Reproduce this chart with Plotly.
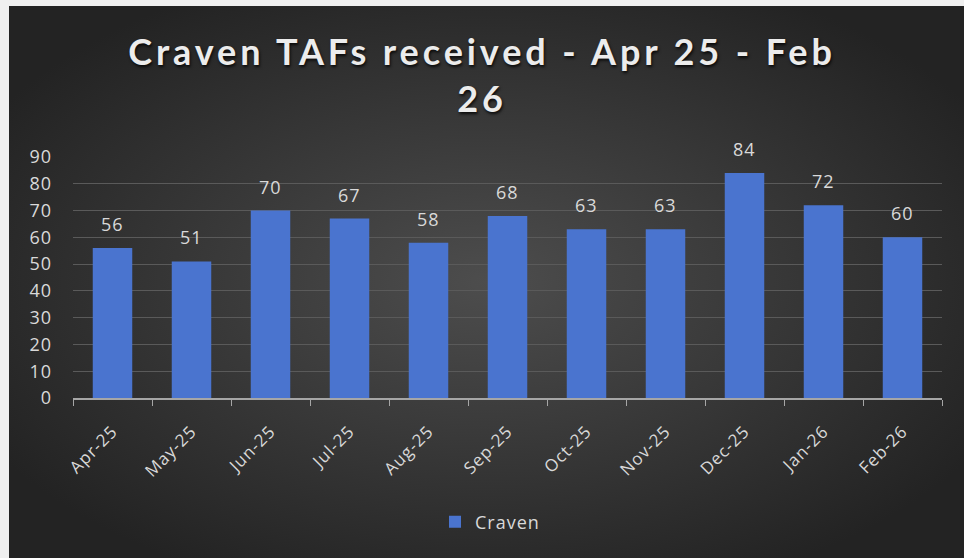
import base64
import plotly.graph_objects as go

months = ["Apr-25", "May-25", "Jun-25", "Jul-25", "Aug-25", "Sep-25",
          "Oct-25", "Nov-25", "Dec-25", "Jan-26", "Feb-26"]
craven = [56, 51, 70, 67, 58, 68, 63, 63, 84, 72, 60]
y_ticks = [0, 10, 20, 30, 40, 50, 60, 70, 80, 90]
title_text = "Craven TAFs received - Apr 25 - Feb<br>26"
series_name = "Craven"

W, H = 964, 558
ML, MR, MT, MB = 73, 22, 157, 160
PW, PH = W - ML - MR, H - MT - MB

svg = f'''<svg xmlns="http://www.w3.org/2000/svg" width="{W}" height="{H}" viewBox="0 0 {W} {H}" preserveAspectRatio="none">
<defs><radialGradient id="g" cx="50%" cy="50%" r="60%">
<stop offset="0%" stop-color="#4d4d4d"/><stop offset="100%" stop-color="#232323"/>
</radialGradient></defs><rect width="{W}" height="{H}" fill="url(#g)"/></svg>'''
bg_src = "data:image/svg+xml;base64," + base64.b64encode(svg.encode()).decode()


def px_x(p):
    return (p - ML) / PW


def px_y(p):
    return (H - MB - p) / PH


fig = go.Figure()
fig.add_trace(go.Bar(
    x=months, y=craven, name=series_name,
    marker=dict(color="#4a74cf", line=dict(width=0)),
    hoverinfo="x+y",
))

for m, v in zip(months, craven):
    fig.add_annotation(x=m, y=v, text=str(v), showarrow=False, yshift=24,
                       yanchor="middle",
                       font=dict(family="Open Sans", size=18, color="#d9d9d9"))

fig.update_layout(
    width=W, height=H,
    margin=dict(l=ML, r=MR, t=MT, b=MB),
    paper_bgcolor="#f0f0f0",
    plot_bgcolor="rgba(0,0,0,0)",
    bargap=0.5,
    showlegend=True,
    title=dict(text=title_text, x=0.5, xref="container", xanchor="center",
               y=1 - 65 / H, yref="container", yanchor="top",
               font=dict(family="Lato", size=36, weight="bold", color="#ececec",
                         shadow="1px 2px 3px rgba(0,0,0,0.8)")),
    legend=dict(orientation="h", x=px_x(487), xanchor="center",
                y=px_y(522), yanchor="middle", itemwidth=30,
                font=dict(family="Open Sans", size=18, color="#d9d9d9"),
                bgcolor="rgba(0,0,0,0)"),
    images=[dict(source=bg_src, xref="paper", yref="paper",
                 x=px_x(9), y=px_y(6), sizex=px_x(W) - px_x(9),
                 sizey=px_y(6) - px_y(H), xanchor="left", yanchor="top",
                 sizing="stretch", layer="below")],
    xaxis=dict(tickangle=-45, tickson="boundaries", ticks="outside", ticklen=6,
               tickcolor="#a6a6a6", showline=True, linecolor="#a6a6a6",
               linewidth=1.5, showgrid=False, ticklabelstandoff=15,
               tickfont=dict(family="Open Sans", size=17, color="#d9d9d9")),
    yaxis=dict(range=[0, 90], tickvals=y_ticks, showgrid=True,
               gridcolor="#5a5a5a", gridwidth=1, zeroline=False,
               showline=False, ticks="", ticklabelstandoff=20,
               tickfont=dict(family="Open Sans", size=18, color="#d9d9d9")),
)

post = """
document.body.style.margin='0';
document.querySelectorAll('.gtitle').forEach(function(e){e.style.letterSpacing='3.9px';});
document.querySelectorAll('.xtick text, .ytick text, .annotation-text, .legendtext').forEach(function(e){e.style.letterSpacing='1px';});
"""

fig.write_html("out.html", post_script=post, config={"displayModeBar": False})
